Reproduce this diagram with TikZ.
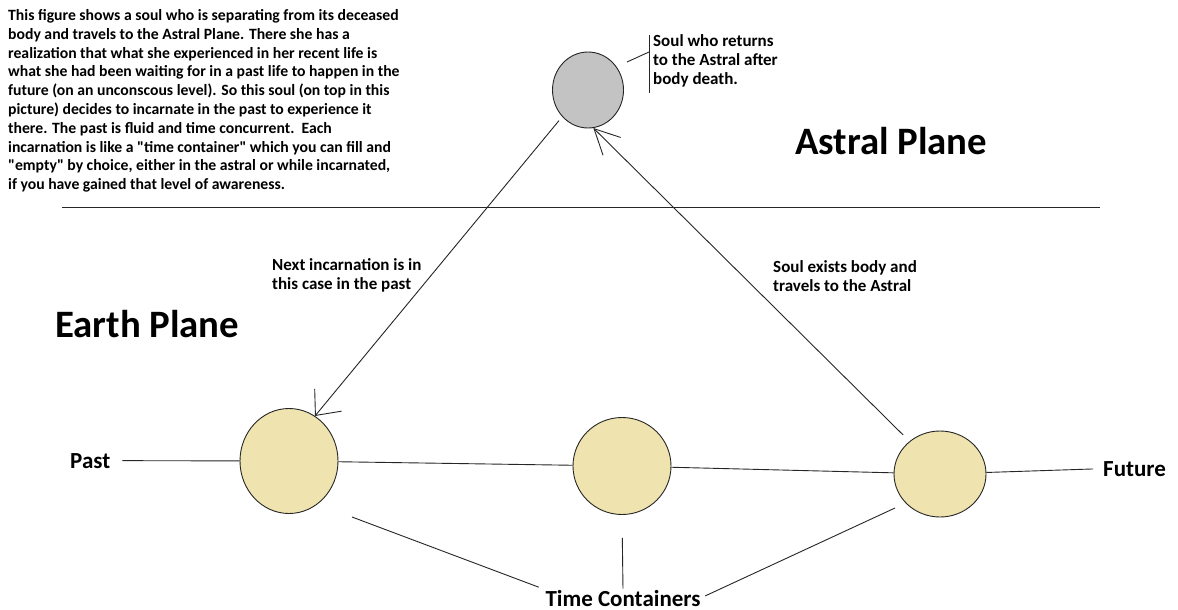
\documentclass[tikz,border=0pt]{standalone}
\usepackage{fontspec}
\setmainfont{Carlito}
\usetikzlibrary{arrows.meta,shapes.geometric}
\definecolor{tanfill}{HTML}{EFE4B0}
\definecolor{soulgrey}{HTML}{C3C3C3}
\begin{document}
\begin{tikzpicture}[x=1pt,y=-1pt,
  conn/.style={line width=0.9pt, draw=black!85},
  tc/.style={ellipse, draw=black!85, line width=0.9pt, fill=tanfill, inner sep=0},
  soul/.style={ellipse, draw=black!85, line width=0.9pt, fill=soulgrey, inner sep=0},
  para/.style={inner sep=0, anchor=base west, font={\bfseries\fontsize{15.7}{18.8}\selectfont}},
  txt/.style={inner sep=0, anchor=base west, font={\bfseries\fontsize{17}{19}\selectfont}},
  mid/.style={inner sep=0, anchor=base west, font={\bfseries\fontsize{23}{26}\selectfont}},
  big/.style={inner sep=0, anchor=base west, font={\bfseries\fontsize{38.8}{42}\selectfont}}]
\useasboundingbox[fill=white] (0,0) rectangle (1178,610);

% description paragraph
\node[para] (desc) at (8,20.5) {\parbox[t]{420pt}{\raggedright
This figure shows a soul who is separating from its deceased\\
body and travels to the Astral Plane. There she has a\\
realization that what she experienced in her recent life is\\
what she had been waiting for in a past life to happen in the\\
future (on an unconscous level). So this soul (on top in this\\
picture) decides to incarnate in the past to experience it\\
there. The past is fluid and time concurrent.\ \ Each\\
incarnation is like a \textquotedbl time container\textquotedbl{} which you can fill and\\
\textquotedbl empty\textquotedbl{} by choice, either in the astral or while incarnated,\\
if you have gained that level of awareness.}};

% soul on the astral plane
\node[soul, minimum width=71pt, minimum height=76pt] (g) at (588,90) {};
\node[txt] (soullabel) at (653,47) {\parbox[t]{160pt}{\raggedright
Soul who returns\\to the Astral after\\body death.}};
\coordinate (bartop) at (649,35);
\coordinate (barbot) at (649,93);
\coordinate (leadA) at (627,62);
\coordinate (leadB) at (649,52);
\draw[conn] (bartop) -- (barbot);
\draw[conn] (leadA) -- (leadB);

\node[big] (astral) at (795,154) {Astral Plane};

% separator
\coordinate (sepL) at (62,207);
\coordinate (sepR) at (1100,207);
\draw[conn] (sepL) -- (sepR);

\node[big] (earth) at (55,337) {Earth Plane};

% time containers
\node[tc, minimum width=98pt, minimum height=105pt] (c1) at (289,461) {};
\node[tc, minimum width=98pt, minimum height=97pt] (c2) at (622,466) {};
\node[tc, minimum width=92pt, minimum height=86pt] (c3) at (940,474) {};

\node[mid] (past) at (70,468) {Past};
\node[mid] (future) at (1103,476) {Future};

\draw[conn, shorten <=12pt] (past.east) -- (c1);
\draw[conn] (c1) -- (c2);
\draw[conn] (c2) -- (c3);
\draw[conn, shorten >=10pt] (c3) -- (future.west);

% arrows
\node[txt] (nextlabel) at (272,270) {\parbox[t]{220pt}{\raggedright
Next incarnation is in\\this case in the past}};
\node[txt] (exitlabel) at (773,272) {\parbox[t]{220pt}{\raggedright
Soul exists body and\\travels to the Astral}};

\draw[conn, shorten <=5pt, -{Straight Barb[length=20pt,width=35pt]}] (g.226) -- (c1.60);
\draw[conn, shorten <=9pt, -{Straight Barb[length=25pt,width=25pt]}] (c3.133) -- (g.278);

% time containers label
\node[mid, anchor=base] (tcl) at (623,606) {Time Containers};
\coordinate (tcA) at (352,517);
\coordinate (tcC) at (895,508);
\draw[conn, shorten >=7pt] (tcA) -- (tcl.north west);
\draw[conn, shorten <=23pt, shorten >=1pt] (c2.south) -- (tcl.north);
\draw[conn, shorten <=5pt] (tcl.east) -- (tcC);
\end{tikzpicture}
\end{document}
